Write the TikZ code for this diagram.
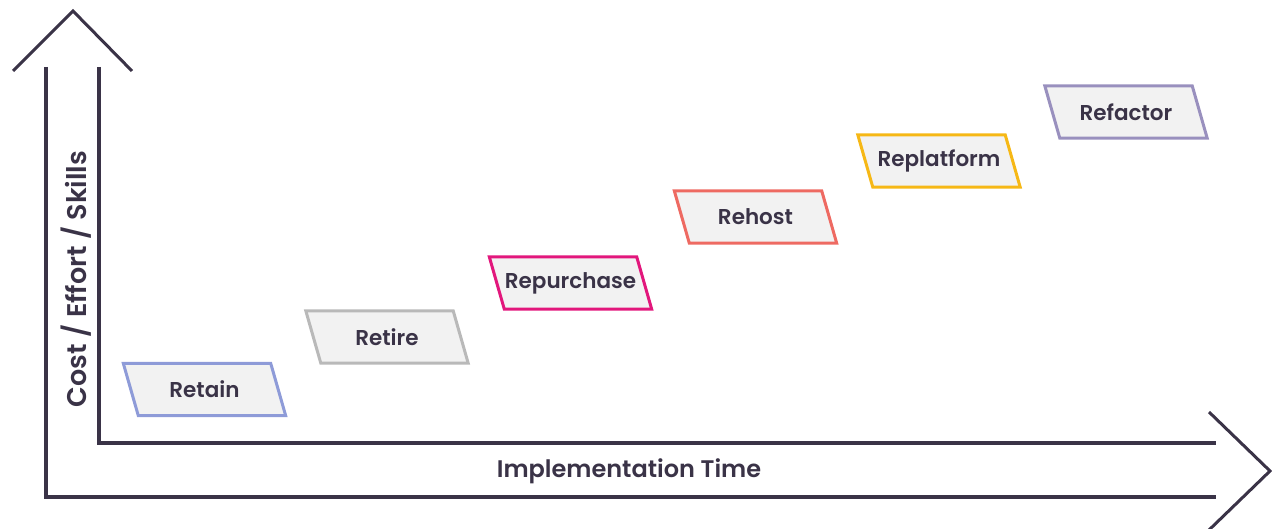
\documentclass[tikz,border=0pt]{standalone}
\usepackage{fontspec}
\setmainfont{Poppins}[BoldFont={* SemiBold}]
\definecolor{ink}{HTML}{3A3347}
\definecolor{boxfill}{HTML}{F2F2F2}
\definecolor{cRetain}{HTML}{8E9BD8}
\definecolor{cRetire}{HTML}{B9B9B9}
\definecolor{cRepurchase}{HTML}{E2177C}
\definecolor{cRehost}{HTML}{EE6A62}
\definecolor{cReplatform}{HTML}{F6B816}
\definecolor{cRefactor}{HTML}{9990BE}
\pgfdeclarelayer{background}
\pgfsetlayers{background,main}
\tikzset{
  axis/.style={draw=ink, line width=4.5pt, line join=miter},
  chevron/.style={draw=ink, line width=3pt, line join=miter},
  axislabel/.style={text=ink, font=\bfseries\fontsize{24}{28}\selectfont, inner sep=0pt},
  ylabelstyle/.style={text=ink, font=\bfseries\fontsize{27}{30}\selectfont, inner sep=0pt},
  steplabel/.style={text=ink, font=\bfseries\fontsize{21.5}{25}\selectfont, inner sep=0pt,
    minimum width=147pt, minimum height=52pt},
  para/.style={line width=3pt, fill=boxfill, line join=miter},
}
\newcommand{\parabox}[2]{%
  \begin{pgfonlayer}{background}
  \path[para, draw=#2] ([xshift=-7.5pt]#1.north west) -- ([xshift=-7.5pt]#1.north east)
     -- ([xshift=7.5pt]#1.south east) -- ([xshift=7.5pt]#1.south west) -- cycle;
  \end{pgfonlayer}}
\begin{document}
\begin{tikzpicture}[x=1pt,y=-1pt]
\useasboundingbox (0,0) rectangle (1272,529);
% axes
\coordinate (otop) at (46,67);
\coordinate (ocorner) at (46,497);
\coordinate (oright) at (1216,497);
\coordinate (itop) at (99,67);
\coordinate (icorner) at (99,443);
\coordinate (iright) at (1216,443);
\draw[axis] (otop) -- (ocorner) -- (oright);
\draw[axis] (itop) -- (icorner) -- (iright);
% chevrons
\coordinate (ul) at (13,71);
\coordinate (ua) at (73,11);
\coordinate (ur) at (132,71);
\draw[chevron] (ul) -- (ua) -- (ur);
\coordinate (rt) at (1209,412);
\coordinate (ra) at (1270,471);
\coordinate (rb) at (1209,530);
\draw[chevron] (rt) -- (ra) -- (rb);
% labels
\node[axislabel] (xlab) at (629,471) {Implementation Time};
\node[ylabelstyle, rotate=90] (ylab) at (76,279) {Cost / Effort / Skills};
% steps
\node[steplabel] (retain) at (204.5,389.5) {Retain};
\node[steplabel] (retire) at (387,337) {Retire};
\node[steplabel] (repurchase) at (570.5,283) {Repurchase};
\node[steplabel] (rehost) at (755.5,217) {Rehost};
\node[steplabel] (replatform) at (939,161) {Replatform};
\node[steplabel] (refactor) at (1126,112) {Refactor};
\parabox{retain}{cRetain}
\parabox{retire}{cRetire}
\parabox{repurchase}{cRepurchase}
\parabox{rehost}{cRehost}
\parabox{replatform}{cReplatform}
\parabox{refactor}{cRefactor}
\end{tikzpicture}
\end{document}
